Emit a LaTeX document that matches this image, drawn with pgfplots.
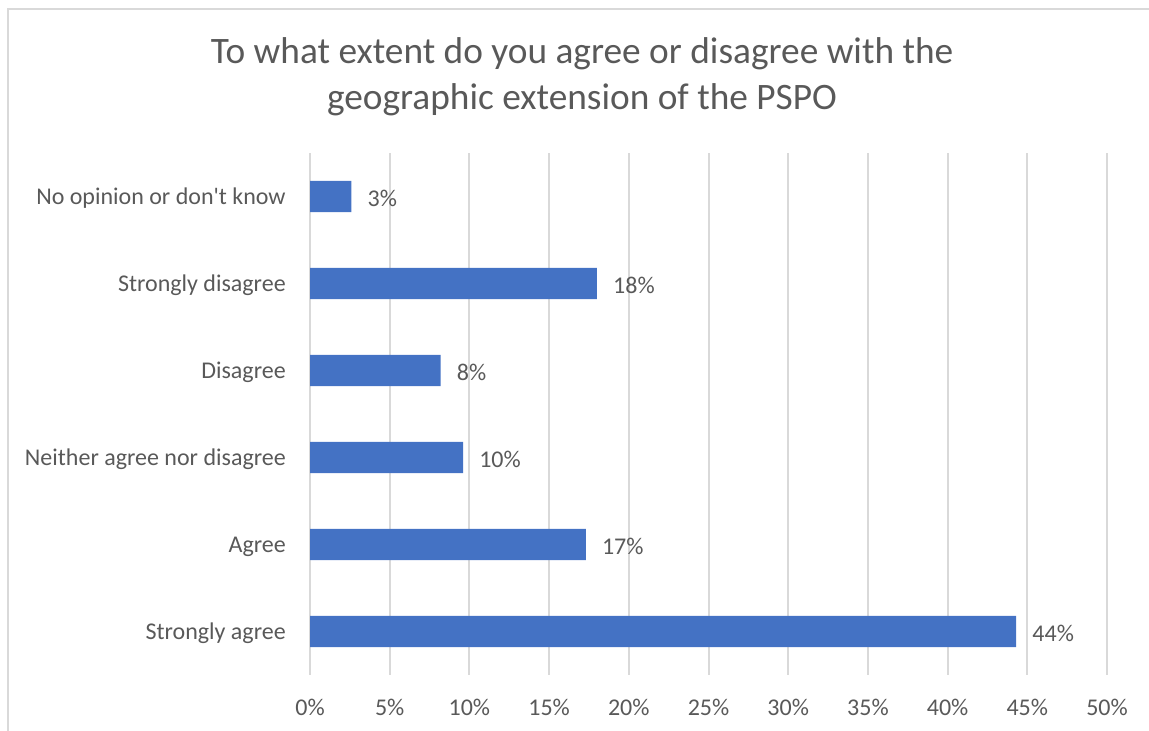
\documentclass[border=0pt]{standalone}
\usepackage{pgfplots}
\pgfplotsset{compat=1.18}
\usepackage{fontspec}
\setmainfont{Carlito}
\definecolor{barc}{HTML}{4472C4}
\definecolor{txt}{HTML}{595959}
\definecolor{gridc}{HTML}{D9D9D9}
\begin{document}
\begin{tikzpicture}[x=0.75pt,y=0.75pt]
\useasboundingbox (0,0) rectangle (1149,731);
\draw[gridc, line width=1.5pt] (8,0) -- (8,722) -- (1149,722);
\coordinate (O) at (310,56);
\node[txt, font=\fontsize{28}{34.5}\selectfont, align=center] at (582,654) {To what extent do you agree or disagree with the\\geographic extension of the PSPO};
\begin{axis}[
  at={(O)}, anchor=south west,
  scale only axis, width=597.75pt, height=391.5pt,
  xbar, bar width=0.36,
  xmin=0, xmax=50, ymin=-0.5, ymax=5.5,
  xtick={0,5,...,50},
  ytick={0,1,2,3,4,5},
  yticklabels={Strongly agree, Agree, Neither agree nor disagree, Disagree, Strongly disagree, No opinion or don\textquotesingle t know},
  xticklabel={\pgfmathprintnumber{\tick}\%},
  /pgf/number format/assume math mode=true,
  xmajorgrids, grid style={gridc, line width=1.5pt},
  axis line style={draw=none},
  major tick length=0pt,
  tick label style={font=\fontsize{18}{21}\selectfont, text=txt},
  yticklabel style={anchor=east, inner sep=0pt, xshift=-18pt, yshift=-1.5pt},
  xticklabel style={anchor=center, inner sep=0pt, yshift=-24pt},
  point meta=explicit symbolic,
  nodes near coords={\pgfplotspointmeta\%},
  nodes near coords style={anchor=west, inner sep=0pt, xshift=12pt, yshift=-1.5pt, font=\fontsize{18}{21}\selectfont, text=txt},
]
\addplot[fill=barc, draw=none] coordinates {
  (44.3,0) [44]
  (17.3,1) [17]
  (9.6,2) [10]
  (8.2,3) [8]
  (18.0,4) [18]
  (2.6,5) [3]
};
\end{axis}
\end{tikzpicture}
\end{document}
